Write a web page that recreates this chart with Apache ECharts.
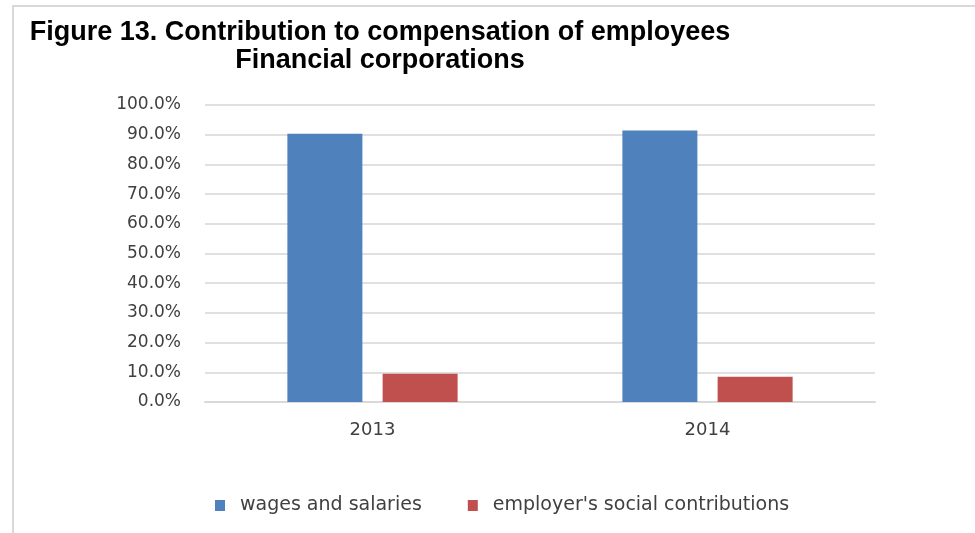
<!DOCTYPE html>
<html>
<head>
<meta charset="utf-8">
<script src="https://cdn.jsdelivr.net/npm/echarts@6/dist/echarts.min.js"></script>
<style>
  html, body { margin: 0; padding: 0; background: #ffffff; }
  #chart { width: 975px; height: 533px; }
</style>
</head>
<body>
<div id="chart"></div>
<script>
// Share of compensation of employees, financial corporations (percent)
const years = ['2013', '2014'];
const wagesAndSalaries = [90.3, 91.4];
const employerSocialContributions = [9.5, 8.5];
const seriesNames = ['wages and salaries', "employer's social contributions"];
const titleLines = ['Figure 13. Contribution to compensation of employees', 'Financial corporations'];

const axisFont = 'DejaVu Sans';
const chart = echarts.init(document.getElementById('chart'), null, { renderer: 'canvas' });

chart.setOption({
  animation: false,
  backgroundColor: '#ffffff',
  graphic: [
    {
      type: 'rect',
      shape: { x: 13, y: 6, width: 1000, height: 560 },
      style: { fill: 'none', stroke: '#d9d9d9', lineWidth: 2 },
      silent: true
    },
    {
      type: 'text',
      x: 380, y: 33,
      style: {
        text: titleLines[0],
        font: 'bold 27px "Liberation Sans", Arial, sans-serif',
        fill: '#000000',
        textAlign: 'center',
        textVerticalAlign: 'middle'
      }
    },
    {
      type: 'text',
      x: 380, y: 61,
      style: {
        text: titleLines[1],
        font: 'bold 27px "Liberation Sans", Arial, sans-serif',
        fill: '#000000',
        textAlign: 'center',
        textVerticalAlign: 'middle'
      }
    }
  ],
  grid: { left: 205, right: 100, top: 105, bottom: 131, containLabel: false },
  legend: {
    left: 215,
    top: 496,
    padding: 0,
    itemWidth: 10,
    itemHeight: 11,
    itemGap: 46,
    icon: 'rect',
    data: seriesNames,
    textStyle: { fontFamily: axisFont, fontSize: 19, color: '#404040', padding: [0, 0, 0, 10] }
  },
  xAxis: {
    type: 'category',
    data: years,
    axisLine: { lineStyle: { color: '#d9d9d9', width: 2 } },
    axisTick: { show: false },
    axisLabel: { fontFamily: axisFont, fontSize: 18, color: '#404040', margin: 19 }
  },
  yAxis: {
    type: 'value',
    min: 0,
    max: 100,
    interval: 10,
    axisLine: { show: false },
    axisTick: { show: false },
    splitLine: { lineStyle: { color: '#e0e0e0', width: 2 } },
    axisLabel: {
      fontFamily: axisFont,
      fontSize: 17,
      color: '#404040',
      margin: 24,
      formatter: v => v.toFixed(1) + '%'
    }
  },
  series: [
    {
      name: seriesNames[0],
      type: 'bar',
      data: wagesAndSalaries,
      barWidth: 75,
      barGap: '27%',
      itemStyle: { color: '#4f81bd' }
    },
    {
      name: seriesNames[1],
      type: 'bar',
      data: employerSocialContributions,
      barWidth: 75,
      itemStyle: { color: '#c0504d' }
    }
  ]
});
</script>
</body>
</html>
